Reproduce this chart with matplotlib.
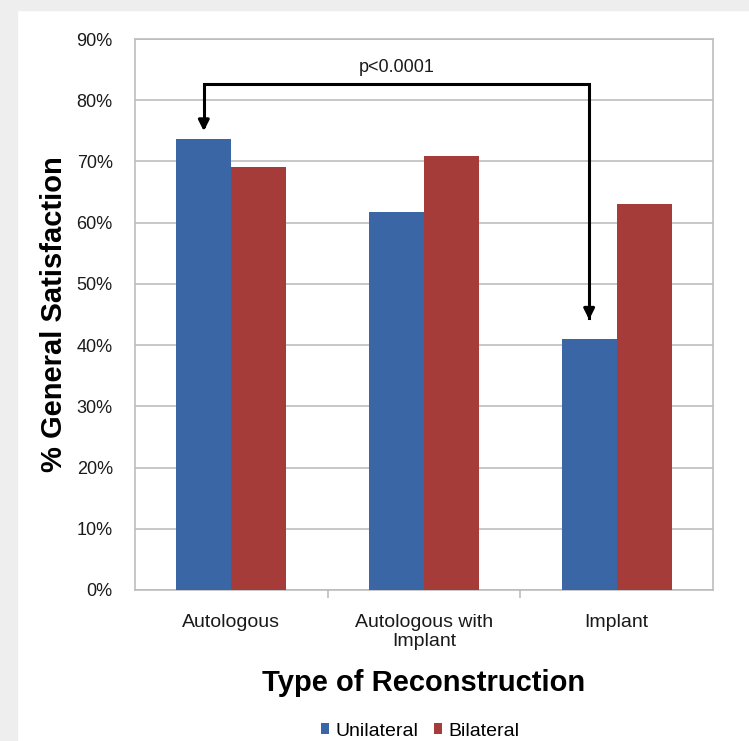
import numpy as np
import matplotlib
matplotlib.use('Agg')
import matplotlib.pyplot as plt
from matplotlib.patches import Rectangle

plt.rcParams['font.family'] = ['Liberation Sans', 'DejaVu Sans']

# data
categories = ['Autologous', 'Autologous with\nImplant', 'Implant']
unilateral = [73.7, 61.8, 41.0]
bilateral = [69.1, 70.9, 63.1]
series_names = ['Unilateral', 'Bilateral']
yticks = np.arange(0, 91, 10)

blue = '#3a66a6'
red = '#a63c3a'
grid_col = '#bdbdbd'

fig = plt.figure(figsize=(7.49, 7.41), dpi=100)
fig.patch.set_facecolor('white')
# light grey frame on left/top like the source scan
fig.add_artist(Rectangle((0, 0), 17 / 749, 1, transform=fig.transFigure, color='#eeeeee', zorder=0))
fig.add_artist(Rectangle((0, 1 - 10 / 741), 1, 10 / 741, transform=fig.transFigure, color='#eeeeee', zorder=0))

ax = fig.add_axes([135 / 749, 1 - 590 / 741, (713 - 135) / 749, (590 - 39) / 741])

x = np.arange(len(categories))
w = 0.2857
ax.bar(x - w / 2, unilateral, w, color=blue, label=series_names[0], zorder=3)
ax.bar(x + w / 2, bilateral, w, color=red, label=series_names[1], zorder=3)

ax.set_xlim(-0.5, 2.5)
ax.set_ylim(0, 90)
ax.set_yticks(yticks)
ax.set_yticklabels([f'{v}%' for v in yticks], fontsize=13, color='#1a1a1a')
ax.yaxis.grid(True, color=grid_col, lw=1.2, zorder=0)
ax.tick_params(axis='y', length=0, pad=16)

# category labels between boundary ticks (Excel style)
ax.set_xticks([0.5, 1.5])
ax.set_xticklabels([])
ax.set_xticks(x, minor=True)
ax.set_xticklabels(categories, minor=True, fontsize=14, color='#1a1a1a', linespacing=1.15)
ax.tick_params(axis='x', which='major', length=6, color=grid_col, width=1.2)
ax.tick_params(axis='x', which='minor', length=0, pad=17)

for s in ax.spines.values():
    s.set_color(grid_col)
    s.set_linewidth(1.2)

ax.set_ylabel('% General Satisfaction', fontsize=21, fontweight='bold', labelpad=6)
ax.set_xlabel('Type of Reconstruction', fontsize=21, fontweight='bold', labelpad=14)

# significance bracket between the two unilateral bars
x1, x2 = x[0] - w / 2, x[2] - w / 2
y_top = 82.7
ax.plot([x1, x1, x2, x2], [75.8, y_top, y_top, 44.5], color='black', lw=2.2, zorder=4,
        solid_joinstyle='miter')
ax.annotate('', xy=(x1, unilateral[0] + 0.8), xytext=(x1, 77),
            arrowprops=dict(arrowstyle='-|>', color='black', lw=2.2, mutation_scale=16), zorder=5)
ax.annotate('', xy=(x2, unilateral[2] + 2.7), xytext=(x2, 46),
            arrowprops=dict(arrowstyle='-|>', color='black', lw=2.2, mutation_scale=16), zorder=5)
ax.text((x1 + x2) / 2, 85.3, 'p<0.0001', ha='center', va='center', fontsize=13, color='#1a1a1a')

fig.legend(loc='center', bbox_to_anchor=(420 / 749, 1 - 731 / 741), ncol=2, frameon=False,
           fontsize=14, handlelength=0.45, handleheight=0.45, handletextpad=0.3, columnspacing=0.8)

fig.savefig('out.png', dpi=100)
